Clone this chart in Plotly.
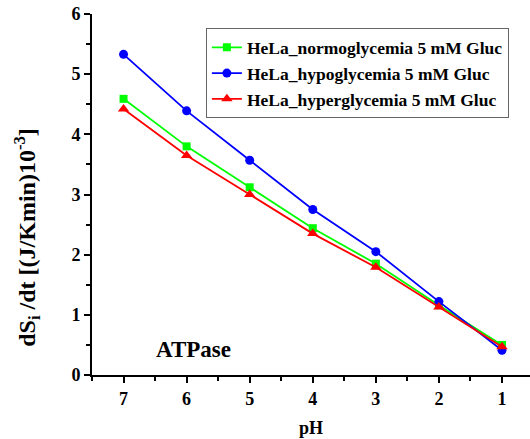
import plotly.graph_objects as go

ph = [7, 6, 5, 4, 3, 2, 1]
normo = [4.59, 3.80, 3.12, 2.44, 1.85, 1.16, 0.50]
hypo = [5.33, 4.39, 3.57, 2.75, 2.05, 1.22, 0.41]
hyper = [4.42, 3.65, 3.00, 2.35, 1.79, 1.13, 0.47]

names = ["HeLa_normoglycemia 5 mM Gluc", "HeLa_hypoglycemia 5 mM Gluc", "HeLa_hyperglycemia 5 mM Gluc"]
FONT = "Liberation Serif"

fig = go.Figure()
fig.add_trace(go.Scatter(x=ph, y=normo, name=names[0], mode="lines+markers",
                         line=dict(color="#00ff00", width=1.8),
                         marker=dict(symbol="square", size=8, color="#00ff00")))
fig.add_trace(go.Scatter(x=ph, y=hypo, name=names[1], mode="lines+markers",
                         line=dict(color="#0000ff", width=1.8),
                         marker=dict(symbol="circle", size=9, color="#0000ff")))
fig.add_trace(go.Scatter(x=ph, y=hyper, name=names[2], mode="lines+markers",
                         line=dict(color="#ff0000", width=1.8),
                         marker=dict(symbol="triangle-up", size=10, color="#ff0000")))

fig.update_layout(
    width=530, height=439,
    margin=dict(l=92, r=0, t=14, b=64),
    paper_bgcolor="white", plot_bgcolor="white",
    font=dict(family=FONT, color="black", size=18),
    legend=dict(x=0.26, y=0.96, xanchor="left", yanchor="top",
                bordercolor="#666666", borderwidth=1, bgcolor="white",
                font=dict(family=FONT, size=17.5, color="black", weight="bold"),
                tracegroupgap=0, itemsizing="trace"),
    annotations=[
        dict(x=5.89, y=0.43, xref="x", yref="y", text="<b>ATPase</b>",
             showarrow=False, font=dict(family=FONT, size=23, color="black")),
        dict(x=0, y=0.38, xref="paper", yref="paper", xanchor="center", yanchor="middle",
             xshift=-65, textangle=-90,
             text="<b>dS<sub>i</sub> /dt [(J/Kmin)10<sup>-3</sup>]</b>",
             showarrow=False, font=dict(family=FONT, size=24, color="black")),
    ],
)
fig.update_xaxes(range=[7.5, 0.556], showline=True, linecolor="black", linewidth=2,
                 ticks="outside", ticklen=6, tickwidth=2, tickcolor="black",
                 dtick=1, tick0=1, showgrid=False, zeroline=False,
                 tickfont=dict(family=FONT, size=18, weight="bold"),
                 minor=dict(ticks="outside", ticklen=4, tickwidth=2, tickcolor="black", dtick=0.5, tick0=0.5),
                 title=dict(text="<b>pH</b>", font=dict(family=FONT, size=18), standoff=14))
fig.update_yaxes(range=[0, 6], showline=True, linecolor="black", linewidth=2,
                 ticks="outside", ticklen=6, tickwidth=2, tickcolor="black",
                 dtick=1, tick0=0, showgrid=False, zeroline=False,
                 tickfont=dict(family=FONT, size=18, weight="bold"),
                 minor=dict(ticks="outside", ticklen=4, tickwidth=2, tickcolor="black", dtick=0.5, tick0=0))

fig.write_html("out.html")
